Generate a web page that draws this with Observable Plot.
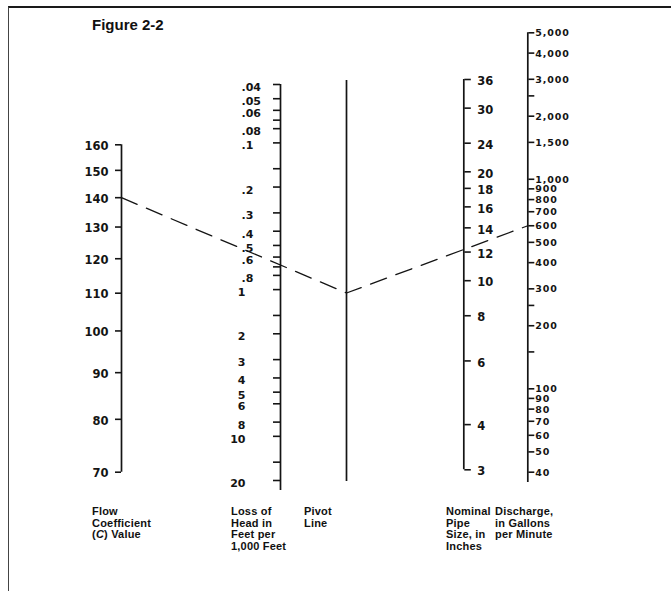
<!DOCTYPE html>
<html><head><meta charset="utf-8">
<script src="https://cdn.jsdelivr.net/npm/d3@7"></script>
<script src="https://cdn.jsdelivr.net/npm/@observablehq/plot@0.6"></script>
<style>
body{margin:0;background:#fff;}
#wrap{position:relative;width:671px;height:591px;overflow:hidden;background:#fff;}
#border{position:absolute;left:8px;top:6px;right:-2px;bottom:-2px;border-top:2px solid #1a1a1a;border-left:1.5px solid #444;}
#title{position:absolute;left:92px;top:16px;font:bold 15px "Liberation Sans",Arial,sans-serif;color:#111;}
.cap{position:absolute;top:506px;font:bold 11px/11.5px "Liberation Sans",Arial,sans-serif;letter-spacing:0.2px;color:#111;white-space:nowrap;}
#wrap svg{position:absolute;left:0;top:0;background:transparent !important;overflow:visible;}
</style></head>
<body><div id="wrap"><div id="border"></div><div id="title">Figure 2-2</div></div>
<script>
// ---- data ----
const cTicks = [70, 80, 90, 100, 110, 120, 130, 140, 150, 160];
const headTicks = [0.04, 0.05, 0.06, 0.07, 0.08, 0.1, 0.15, 0.2, 0.3, 0.4, 0.5, 0.6, 0.7, 0.8, 1, 1.5, 2, 3, 4, 5, 6, 8, 10, 15, 20];
const headLabels = [0.04, 0.05, 0.06, 0.08, 0.1, 0.2, 0.3, 0.4, 0.5, 0.6, 0.8, 1, 2, 3, 4, 5, 6, 8, 10, 20];
const pipeTicks = [3, 4, 6, 8, 10, 12, 14, 16, 18, 20, 24, 30, 36];
const flowTicks = [40, 50, 60, 70, 80, 90, 100, 150, 200, 250, 300, 400, 500, 600, 700, 800, 900, 1000, 1500, 2000, 2500, 3000, 4000, 5000];
const flowLabels = [40, 50, 60, 70, 80, 90, 100, 200, 300, 400, 500, 600, 700, 800, 900, 1000, 1500, 2000, 3000, 4000, 5000];
const exampleC = 140;      // flow coefficient read on the first scale
const exampleHead = 0.68;  // loss of head where the dashed line crosses
const exampleFlow = 600;   // discharge where the dashed line ends
const captions = [
  {key: "c", lines: ["Flow", "Coefficient", "(<i>C</i>) Value"]},
  {key: "head", lines: ["Loss of", "Head in", "Feet per", "1,000 Feet"]},
  {key: "pivot", lines: ["Pivot", "Line"]},
  {key: "pipe", lines: ["Nominal", "Pipe", "Size, in", "Inches"]},
  {key: "flow", lines: ["Discharge,", "in Gallons", "per Minute"]}
];

// ---- layout ----
const W = 671, H = 591;
const L = {
  c:     {x: 121,   top: 144.3, bottom: 471.7, ext: 0},
  head:  {x: 280,   top: 84,    bottom: 480,   ext: 10},
  pivot: {x: 346,   top: 80,    bottom: 481,   ext: 0},
  pipe:  {x: 463.3, top: 79,    bottom: 469.3, ext: 0},
  flow:  {x: 527.3, top: 32.3,  bottom: 471.7, ext: 10.3}
};
const capX = {c: 92, head: 231, pivot: 304, pipe: 446, flow: 495};
const INK = "#141414";
const FONT = "DejaVu Sans, sans-serif";
const wrap = document.getElementById("wrap");

function mount(fig) {
  fig.style.color = INK;
  wrap.append(fig);
  return fig;
}
function base(l, side, y, marks) {
  return Plot.plot({
    width: W, height: H,
    marginLeft: side === "left" ? l.x : 0,
    marginRight: side === "left" ? 0 : W - l.x,
    marginTop: l.top, marginBottom: H - l.bottom - l.ext, insetBottom: l.ext,
    x: {domain: [0, 1], axis: null},
    y: {...y, axis: null},
    marks
  });
}
const axisLine = (side) => Plot.ruleX([side === "left" ? 0 : 1], {stroke: INK, strokeWidth: 1.7});
const ticksOnly = (anchor, ticks, size) =>
  Plot.axisY({anchor, ticks, tickSize: size, tickFormat: () => "", label: null, stroke: INK, strokeWidth: 1.6});
const labels = (values, fmt, opts) =>
  Plot.text(values, {y: d => d, text: fmt, fill: INK, fontFamily: FONT, fontWeight: "bold", fontSize: 11.5, ...opts});

// C value scale
const figC = mount(base(L.c, "left", {type: "log", domain: d3.extent(cTicks)}, [
  axisLine("left"),
  ticksOnly("left", cTicks, 6),
  labels(cTicks, d => String(d), {frameAnchor: "left", dx: -13, dy: 1.5, textAnchor: "end"})
]));

// Loss of head scale (decimal-aligned labels)
const headFmt = d => d < 1 ? String(d).slice(1) : String(d);
const figH = mount(base(L.head, "left", {type: "log", domain: d3.extent(headTicks), reverse: true}, [
  axisLine("left"),
  ticksOnly("left", headTicks, 7),
  labels(headLabels.filter(d => d < 1), headFmt, {frameAnchor: "left", dx: -39, dy: 3, textAnchor: "start", fontSize: 11}),
  labels(headLabels.filter(d => d >= 1), headFmt, {frameAnchor: "left", dx: -35, dy: 3, textAnchor: "end", fontSize: 11})
]));

// Pivot line
mount(base(L.pivot, "left", {type: "linear", domain: [0, 1]}, [axisLine("left")]));

// Pipe size scale
mount(base(L.pipe, "right", {type: "log", domain: d3.extent(pipeTicks)}, [
  axisLine("right"),
  ticksOnly("right", pipeTicks, 6.5),
  labels(pipeTicks, d => String(d), {frameAnchor: "right", dx: 13.5, dy: 2, textAnchor: "start"})
]));

// Discharge scale (dense labels: smaller, slightly tracked)
const fmtQ = d3.format(",");
const figQ = mount(base(L.flow, "right", {type: "log", domain: d3.extent(flowTicks)}, [
  axisLine("right"),
  ticksOnly("right", flowTicks, 6),
  labels(flowLabels, fmtQ, {frameAnchor: "right", dx: 7.5, dy: 0.5, textAnchor: "start", fontSize: 9.5})
]));
figQ.querySelectorAll("text").forEach(t => t.style.letterSpacing = "0.9px");

// Dashed example line: C -> head -> pivot, then pivot -> discharge
const pC = {x: L.c.x, y: figC.scale("y").apply(exampleC)};
const pH = {x: L.head.x, y: figH.scale("y").apply(exampleHead)};
const slope = (pH.y - pC.y) / (pH.x - pC.x);
const pPivot = {x: L.pivot.x, y: pC.y + slope * (L.pivot.x - pC.x)};
const pQ = {x: L.flow.x, y: figQ.scale("y").apply(exampleFlow)};
mount(Plot.plot({
  width: W, height: H, margin: 0,
  x: {type: "identity", axis: null},
  y: {type: "identity", axis: null},
  marks: [Plot.line([pC, pPivot, pQ], {x: "x", y: "y", stroke: INK, strokeWidth: 1.3, strokeDasharray: "17,10"})]
}));

// Captions below the scales
for (const c of captions) {
  const div = document.createElement("div");
  div.className = "cap";
  div.style.left = capX[c.key] + "px";
  div.innerHTML = c.lines.join("<br>");
  wrap.append(div);
}
</script>
</body></html>
